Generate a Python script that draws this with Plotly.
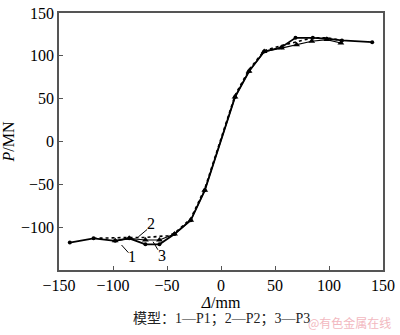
import plotly.graph_objects as go

# Curve 1 (P1) - thick solid with dots
x1 = [-140, -118, -98, -85, -70, -57, -43, -28, -15, 13, 26, 40, 56, 69, 85, 98, 112, 140]
y1 = [-118, -113, -116, -113, -120, -120, -108, -92, -57, 52, 82, 105, 110, 121, 121, 120, 118, 116]
# Curve 2 (P2) - dotted
x2 = [-118, -98, -85, -70, -57, -49, -43, -28, -15, 13, 26, 40, 56, 69, 85, 98, 112]
y2 = [-113, -112, -112, -112, -111, -110, -107, -90, -55, 54, 84, 106, 112, 116, 121, 121, 118]
# Curve 3 (P3) - thin solid with triangles
x3 = [-98, -85, -70, -57, -43, -28, -15, 13, 26, 40, 56, 70, 84, 98, 111]
y3 = [-116, -113, -115, -115, -108, -92, -57, 52, 82, 105, 109, 113, 117, 119, 115]

x_ticks = [-150, -100, -50, 0, 50, 100, 150]
y_ticks = [-100, -50, 0, 50, 100, 150]

labels = ["1", "2", "3"]
label_x = [-82, -64.8, -54.7]
label_y = [-134, -96, -133]
leader_x0 = [-85.7, -68.4, -58.4]
leader_y0 = [-129.8, -102.7, -126.4]
leader_x1 = [-92.1, -76.6, -62.9]
leader_y1 = [-120.8, -111.4, -117]

serif = "Liberation Serif"

fig = go.Figure()
fig.add_trace(go.Scatter(x=x2, y=y2, mode="lines",
                         line=dict(color="black", width=1.6, dash="dot"), showlegend=False))
fig.add_trace(go.Scatter(x=x3, y=y3, mode="lines+markers",
                         line=dict(color="black", width=1.2),
                         marker=dict(symbol="triangle-up", size=6, color="black"), showlegend=False))
fig.add_trace(go.Scatter(x=x1, y=y1, mode="lines+markers",
                         line=dict(color="black", width=1.8),
                         marker=dict(symbol="circle", size=4, color="black"), showlegend=False))

for i in range(3):
    fig.add_shape(type="line", xref="x", yref="y",
                  x0=leader_x0[i], y0=leader_y0[i], x1=leader_x1[i], y1=leader_y1[i],
                  line=dict(color="black", width=1))
    fig.add_annotation(x=label_x[i], y=label_y[i], text=labels[i], showarrow=False,
                       font=dict(family=serif, size=16, color="black"))

axis_common = dict(showgrid=False, zeroline=False, showline=True, linecolor="#555",
                   linewidth=1.5, mirror=True, ticks="inside", ticklen=4,
                   tickcolor="#555", tickwidth=1, ticklabeloverflow="allow",
                   tickfont=dict(family=serif, size=16, color="black"))

fig.update_xaxes(range=[-150, 150], tickvals=x_ticks, **axis_common,
                 title=dict(text="<i>Δ</i>/mm", font=dict(family=serif, size=16, color="black"),
                            standoff=2))
fig.update_yaxes(range=[-150, 150], tickvals=y_ticks, **axis_common,
                 title=dict(text="<i>P</i>/MN", font=dict(family=serif, size=16, color="black"),
                            standoff=4))

fig.add_annotation(xref="paper", yref="paper", x=0.5, y=-0.19, yanchor="middle",
                   text="模型：1—P1；2—P2；3—P3", showarrow=False,
                   font=dict(family="Liberation Serif, Noto Sans CJK SC", size=14, color="#222"))
fig.add_annotation(xref="paper", yref="paper", x=1.03, xanchor="right", y=-0.205, yanchor="middle",
                   text="@有色金属在线", showarrow=False,
                   font=dict(family="Noto Sans CJK SC", size=12, color="#f2b8c0"))

fig.update_layout(width=400, height=335, margin=dict(l=59, r=12, t=5, b=65),
                  plot_bgcolor="white", paper_bgcolor="white")

fig.write_html("out.html")
